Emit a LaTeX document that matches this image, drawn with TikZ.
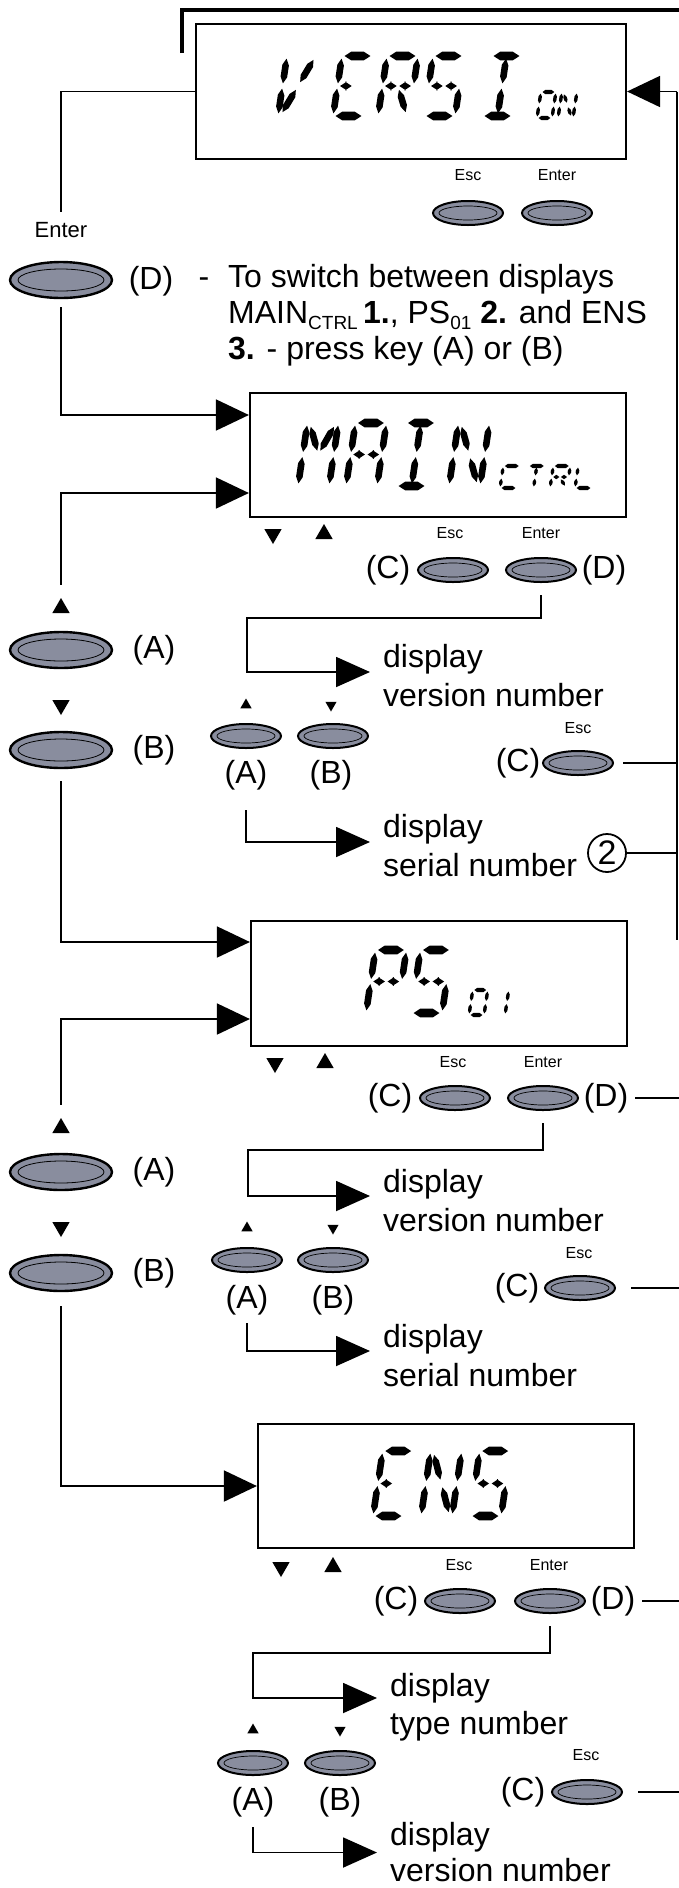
\documentclass[tikz,border=0pt]{standalone}
\usepackage{fontspec}
\setmainfont{Liberation Sans}
\usetikzlibrary{arrows.meta,shapes.geometric,calc}
\definecolor{btngrey}{RGB}{137,141,158}

% ---------- LCD segment drawing ----------
% #1 #2 start (u,v), #3 #4 end (u,v), #5 half thickness
\newcommand\lcdseg[5]{%
  \pgfmathsetmacro\lXa{\lcx+(#1)+\lcs*(#2)}%
  \pgfmathsetmacro\lYa{\lcy-(#2)}%
  \pgfmathsetmacro\lXb{\lcx+(#3)+\lcs*(#4)}%
  \pgfmathsetmacro\lYb{\lcy-(#4)}%
  \pgfmathsetmacro\lLen{veclen(\lXb-\lXa,\lYb-\lYa)}%
  \pgfmathsetmacro\lUx{(\lXb-\lXa)/\lLen}%
  \pgfmathsetmacro\lUy{(\lYb-\lYa)/\lLen}%
  \pgfmathsetmacro\lDx{\lUx*\lctp}%
  \pgfmathsetmacro\lDy{\lUy*\lctp}%
  \pgfmathsetmacro\lNx{-\lUy*(#5)}%
  \pgfmathsetmacro\lNy{\lUx*(#5)}%
  \fill (\lXa,\lYa) -- ({\lXa+(\lDx)+(\lNx)},{\lYa+(\lDy)+(\lNy)})
     -- ({\lXb-(\lDx)+(\lNx)},{\lYb-(\lDy)+(\lNy)}) -- (\lXb,\lYb)
     -- ({\lXb-(\lDx)-(\lNx)},{\lYb-(\lDy)-(\lNy)})
     -- ({\lXa+(\lDx)-(\lNx)},{\lYa+(\lDy)-(\lNy)}) -- cycle;}
\def\lcdSa{\lcdseg{\lcg}{\lch}{\lcw-\lcg}{\lch}{\lcth}}
\def\lcdSb{\lcdseg{\lcw}{\lch-\lcg}{\lcw}{\lch/2+\lcg}{\lctv}}
\def\lcdSc{\lcdseg{\lcw}{\lch/2-\lcg}{\lcw}{\lcg}{\lctv}}
\def\lcdSd{\lcdseg{\lcg}{0}{\lcw-\lcg}{0}{\lcth}}
\def\lcdSe{\lcdseg{0}{\lcg}{0}{\lch/2-\lcg}{\lctv}}
\def\lcdSf{\lcdseg{0}{\lch/2+\lcg}{0}{\lch-\lcg}{\lctv}}
\def\lcdSp{\lcdseg{\lcg}{\lch/2}{\lcw/2-\lcg/2}{\lch/2}{\lcth}}
\def\lcdSq{\lcdseg{\lcw/2+\lcg/2}{\lch/2}{\lcw-\lcg}{\lch/2}{\lcth}}
\def\lcdSh{\lcdseg{1.5*\lcg}{\lch-1.5*\lcg}{\lcw/2-0.6*\lcg}{\lch/2+1.5*\lcg}{\lctv}}
\def\lcdSi{\lcdseg{\lcw/2}{\lch-\lcg}{\lcw/2}{\lch/2+\lcg}{\lctv}}
\def\lcdSj{\lcdseg{\lcw-1.5*\lcg}{\lch-1.5*\lcg}{\lcw/2+0.6*\lcg}{\lch/2+1.5*\lcg}{\lctv}}
\def\lcdSk{\lcdseg{\lcw/2-0.6*\lcg}{\lch/2-1.5*\lcg}{1.5*\lcg}{1.5*\lcg}{\lctv}}
\def\lcdSl{\lcdseg{\lcw/2}{\lch/2-\lcg}{\lcw/2}{\lcg}{\lctv}}
\def\lcdSm{\lcdseg{\lcw/2+0.6*\lcg}{\lch/2-1.5*\lcg}{\lcw-1.5*\lcg}{1.5*\lcg}{\lctv}}
\newcommand\lcdglyph[3]{\def\lcx{#1}\def\lcy{#2}%
  \foreach \lcdsg in {#3}{\csname lcdS\lcdsg\endcsname}}
\newcommand\lcdbig[1]{\def\lcw{31}\def\lch{#1}\def\lcg{2.6}\def\lcth{4.3}\def\lctv{3.3}\def\lctp{6.5}\def\lcs{0.15}}
\newcommand\lcdsmall[2]{\def\lcw{#2}\def\lch{#1}\def\lcg{1.6}\def\lcth{2.1}\def\lctv{1.7}\def\lctp{2.8}\def\lcs{0.15}}

\tikzset{
  lcdbox/.style={draw, line width=2.2pt, rectangle, inner sep=0},
  conn/.style={line width=1.8pt},
  thinconn/.style={line width=1.4pt},
  arrbig/.style={conn, -{Triangle[length=33pt,width=31pt]}},
  arrtxt/.style={conn, -{Triangle[length=34pt,width=30pt]}},
  bigbtn/.style={ellipse, draw=black, line width=2.4pt, fill=btngrey,
    minimum width=102pt, minimum height=36pt, inner sep=0,
    path picture={\draw[line width=0.8pt] (path picture bounding box.center)
      ellipse [x radius=43pt, y radius=11pt];}},
  smallbtn/.style={ellipse, draw=black, line width=2pt, fill=btngrey,
    minimum width=70pt, minimum height=24pt, inner sep=0,
    path picture={\draw[line width=0.7pt] (path picture bounding box.center)
      ellipse [x radius=29pt, y radius=7pt];}},
  triup/.style={regular polygon, regular polygon sides=3, fill=black, inner sep=0, minimum size=20pt},
  tridown/.style={triup, shape border rotate=180},
  strup/.style={regular polygon, regular polygon sides=3, fill=black, inner sep=0, minimum size=13pt},
  strdown/.style={strup, shape border rotate=180},
  btxt/.style={font=\fontsize{32}{37}\selectfont, inner sep=0},
  stxt/.style={font=\fontsize{16}{18}\selectfont, inner sep=0},
  mtxt/.style={font=\fontsize{22}{24}\selectfont, inner sep=0},
  lbl2/.style={btxt, font=\fontsize{32}{38.5}\selectfont, align=left, anchor=west}
}

\begin{document}
\begin{tikzpicture}[x=1pt,y=-1pt]
\fill[white] (0,0) rectangle (679,1888);
\useasboundingbox (0,0) rectangle (679,1888);

% ---------------- frame lines on top / right ----------------
\coordinate (tl) at (182,53);
\coordinate (tr) at (679,10);
\coordinate (rtop) at (677,91.5);
\coordinate (rbot) at (677,940);
\coordinate (redge) at (679,0);
\draw[line width=4pt] (tl) |- (tr);
\draw[thinconn] (rtop) -- (rbot);

% ---------------- VERSION ----------------
\node[lcdbox, minimum width=430pt, minimum height=135pt] (ver) at (411,91.5) {};
\lcdbig{60}
\lcdglyph{278}{116}{f,e,j,k}
\lcdglyph{333}{116}{a,f,e,d,p}
\lcdglyph{378}{116}{a,b,f,e,p,q,m}
\lcdglyph{424}{116}{a,f,p,q,c,d}
\lcdglyph{482}{116}{a,i,l,d}
\lcdsmall{26}{15}
\lcdglyph{537}{118}{a,b,c,d,e,f}
\lcdglyph{558}{118}{f,e,h,m,b,c}
\draw[arrbig] (rtop) -- (ver.east);
\node[stxt] (vesclbl) at (468,175) {Esc};
\node[stxt] (ventlbl) at (557,175) {Enter};
\node[smallbtn] (vescbtn) at (468,213) {};
\node[smallbtn] (ventbtn) at (557,213) {};

\node[mtxt] (entlbl) at (61,230) {Enter};
\node[bigbtn] (dbtn) at (61,280) {};
\node[btxt] (dlbl) at (151,281) {(D)};
\draw[conn, shorten >=10pt] (ver.west) -| (entlbl.north);
\node[btxt, align=left, anchor=north west, font=\fontsize{32}{36}\selectfont] (note) at (228,264.5)
  {\llap{-\hspace{19pt}}To switch between displays\\
   MAIN\raisebox{-6pt}{\fontsize{19}{19}\selectfont CTRL}\,\textbf{1.}, PS\raisebox{-6pt}{\fontsize{19}{19}\selectfont 01} \textbf{2.} and ENS\\
   \textbf{3.} - press key (A) or (B)};

% ---------------- MAIN CTRL ----------------
\node[lcdbox, minimum width=376pt, minimum height=124pt] (main) at (438,455) {};
\lcdbig{63}
\lcdglyph{298}{486}{f,e,b,c,h,j}
\lcdglyph{346}{486}{a,b,c,e,f,p,q}
\lcdglyph{396}{486}{a,i,l,d}
\lcdglyph{449}{486}{f,e,h,m,b,c}
\lcdsmall{22}{17}
\lcdglyph{500}{488}{a,f,e,d}
\lcdglyph{525}{488}{a,i,l}
\lcdglyph{550}{488}{a,b,f,e,p,q,m}
\lcdglyph{575}{488}{f,e,d}
\draw[arrbig, shorten <=8pt] (dbtn.south) |- ($(main.west)+(0,-40)$);

\node[tridown] (mdn) at (273,534) {};
\node[triup] (mup) at (324,534) {};
\node[stxt] (mesclbl) at (450,533) {Esc};
\node[stxt] (mentlbl) at (541,533) {Enter};
\node[btxt] (mclbl) at (388,570) {(C)};
\node[smallbtn] (mescbtn) at (453,570) {};
\node[smallbtn] (mentbtn) at (541,570) {};
\node[btxt] (mdlbl) at (604,570) {(D)};
\coordinate (mk1) at (247,618);
\node[lbl2] (mver) at (383,675.5) {display\\version number};
\draw[arrtxt, shorten <=12pt, shorten >=13pt] (mentbtn.south) |- (mk1) |- ([yshift=3.5pt]mver.west);

\node[triup] (maup) at (61,608) {};
\node[bigbtn] (mabtn) at (61,650) {};
\node[btxt] (malbl) at (154,650) {(A)};
\node[tridown] (mbdn) at (61,705) {};
\node[bigbtn] (mbbtn) at (61,750) {};
\node[btxt] (mblbl) at (154,750) {(B)};
\draw[arrbig, shorten <=13pt] (maup.north) |- ($(main.west)+(0,38)$);

\node[strup] (msau) at (246,705) {};
\node[strdown] (msbd) at (331,705) {};
\node[smallbtn] (msabtn) at (246,736) {};
\node[smallbtn] (msbbtn) at (333,736) {};
\node[btxt] (msalbl) at (246,775) {(A)};
\node[btxt] (msblbl) at (331,775) {(B)};
\node[stxt] (mesc2lbl) at (578,728) {Esc};
\node[btxt] (mc2lbl) at (518,763) {(C)};
\node[smallbtn] (mesc2btn) at (578,763) {};
\draw[conn, shorten <=9pt] (mesc2btn.east) -- (mesc2btn.east -| rtop);
\node[lbl2] (mser) at (383,845.5) {display\\serial number};
\draw[arrtxt, shorten <=20pt, shorten >=13pt] (msalbl.south) |- ([yshift=3.5pt]mser.west);
\node[circle, draw, line width=1.8pt, minimum size=38pt, btxt, font=\fontsize{34}{34}\selectfont] (two) at (607,853) {2};
\draw[conn] (two.east) -- (two.east -| rtop);

% ---------------- PS01 ----------------
\node[lcdbox, minimum width=376pt, minimum height=125pt] (ps) at (439,983.5) {};
\lcdbig{63}
\lcdglyph{366}{1013}{a,b,f,e,p,q}
\lcdglyph{411}{1013}{a,f,p,q,c,d}
\lcdsmall{25}{15}
\lcdglyph{469}{1015}{a,b,c,d,e,f}
\lcdglyph{490}{1015}{b,c}
\draw[arrbig, shorten <=12pt] (mbbtn.south) |- ($(ps.west)+(0,-41.5)$);

\node[tridown] (pdn) at (275,1063) {};
\node[triup] (pup) at (325,1063) {};
\node[stxt] (pesclbl) at (453,1062) {Esc};
\node[stxt] (pentlbl) at (543,1062) {Enter};
\node[btxt] (pclbl) at (390,1098) {(C)};
\node[smallbtn] (pescbtn) at (455,1098) {};
\node[smallbtn] (pentbtn) at (543,1098) {};
\node[btxt] (pdlbl) at (606,1098) {(D)};
\draw[conn, shorten <=7pt] (pdlbl.east) -- (pdlbl.east -| redge);
\coordinate (pk1) at (248,1150);
\node[lbl2] (pver) at (383,1200.5) {display\\version number};
\draw[arrtxt, shorten <=12pt, shorten >=13pt] (pentbtn.south) |- (pk1) |- ([yshift=4.5pt]pver.west);

\node[triup] (paup) at (61,1128) {};
\node[bigbtn] (pabtn) at (61,1172) {};
\node[btxt] (palbl) at (154,1172) {(A)};
\node[tridown] (pbdn) at (61,1227) {};
\node[bigbtn] (pbbtn) at (61,1273) {};
\node[btxt] (pblbl) at (154,1273) {(B)};
\draw[arrbig, shorten <=13pt] (paup.north) |- ($(ps.west)+(0,35.5)$);

\node[strup] (psau) at (247,1228) {};
\node[strdown] (psbd) at (333,1228) {};
\node[smallbtn] (psabtn) at (247,1260) {};
\node[smallbtn] (psbbtn) at (333,1260) {};
\node[btxt] (psalbl) at (247,1300) {(A)};
\node[btxt] (psblbl) at (333,1300) {(B)};
\node[stxt] (pesc2lbl) at (579,1253) {Esc};
\node[btxt] (pc2lbl) at (517,1288) {(C)};
\node[smallbtn] (pesc2btn) at (580,1288) {};
\draw[conn, shorten <=15pt] (pesc2btn.east) -- (pesc2btn.east -| redge);
\node[lbl2] (pser) at (383,1355.5) {display\\serial number};
\draw[arrtxt, shorten <=8pt, shorten >=13pt] (psalbl.south) |- ([yshift=4.5pt]pser.west);

% ---------------- ENS ----------------
\node[lcdbox, minimum width=376pt, minimum height=124pt] (ens) at (446,1486) {};
\lcdbig{65}
\lcdglyph{373}{1516}{a,f,e,d,p}
\lcdglyph{421}{1516}{f,e,h,m,b,c}
\lcdglyph{470}{1516}{a,f,p,q,c,d}
\draw[arrbig, shorten <=14pt] (pbbtn.south) |- (ens.west);

\node[tridown] (edn) at (281,1567) {};
\node[triup] (eup) at (333,1567) {};
\node[stxt] (eesclbl) at (459,1565) {Esc};
\node[stxt] (eentlbl) at (549,1565) {Enter};
\node[btxt] (eclbl) at (396,1601) {(C)};
\node[smallbtn] (eescbtn) at (460,1601) {};
\node[smallbtn] (eentbtn) at (550,1601) {};
\node[btxt] (edlbl) at (613,1601) {(D)};
\draw[conn, shorten <=7pt] (edlbl.east) -- (edlbl.east -| redge);
\coordinate (ek1) at (253,1653);
\node[lbl2] (etyp) at (390,1707) {display\\type number};
\draw[arrtxt, shorten <=12pt, shorten >=13pt] (eentbtn.south) |- (ek1) |- ([yshift=9pt]etyp.west);

\node[strup] (esau) at (253,1730) {};
\node[strdown] (esbd) at (340,1730) {};
\node[smallbtn] (esabtn) at (253,1763) {};
\node[smallbtn] (esbbtn) at (340,1763) {};
\node[btxt] (esalbl) at (253,1802) {(A)};
\node[btxt] (esblbl) at (340,1802) {(B)};
\node[stxt] (eesc2lbl) at (586,1755) {Esc};
\node[btxt] (ec2lbl) at (523,1792) {(C)};
\node[smallbtn] (eesc2btn) at (587,1792) {};
\draw[conn, shorten <=15pt] (eesc2btn.east) -- (eesc2btn.east -| redge);
\node[lbl2, font=\fontsize{32}{36}\selectfont] (ever) at (390,1852.5) {display\\version number};
\draw[arrtxt, shorten <=10pt, shorten >=13pt] (esalbl.south) |- (ever.west);
\end{tikzpicture}
\end{document}
